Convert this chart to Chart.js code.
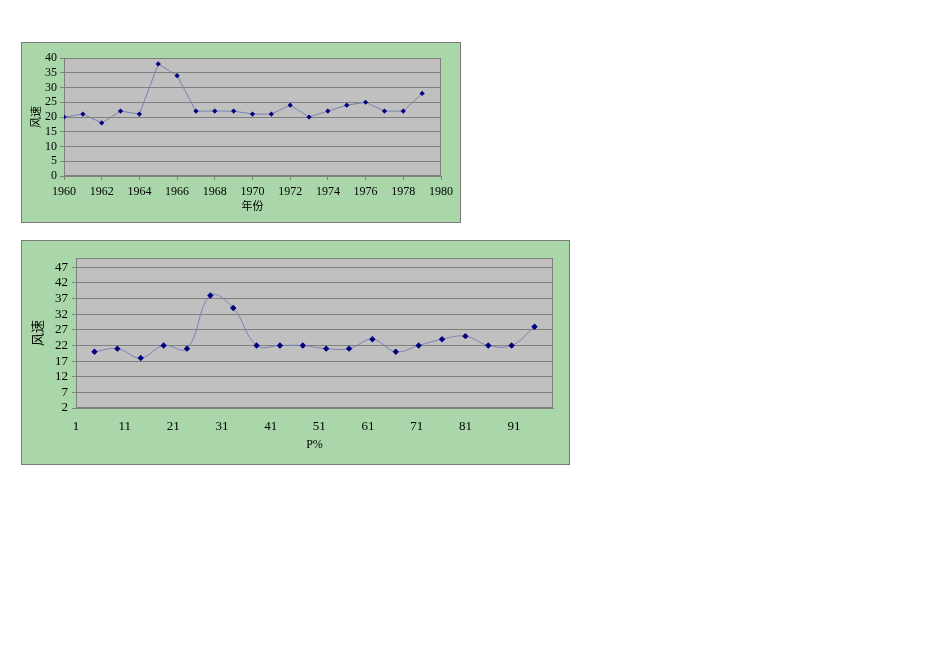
<!DOCTYPE html>
<html>
<head>
<meta charset="utf-8">
<script src="https://cdn.jsdelivr.net/npm/chart.js@4.4.0/dist/chart.umd.min.js"></script>
<style>
  html, body { margin: 0; padding: 0; background: #ffffff; width: 950px; height: 672px; overflow: hidden; }
  .box { position: absolute; background: #a9d7a9; border: 1px solid #7a7a7a; }
  #box1 { left: 21px; top: 42px; width: 438px; height: 179px; }
  #box2 { left: 21px; top: 240px; width: 547px; height: 223px; }
  canvas { display: block; }
</style>
</head>
<body>
<div class="box" id="box1"><canvas id="chart1" width="438" height="179"></canvas></div>
<div class="box" id="box2"><canvas id="chart2" width="547" height="223"></canvas></div>
<script>
// 年份 / 风速
const years = [1960, 1961, 1962, 1963, 1964, 1965, 1966, 1967, 1968, 1969,
               1970, 1971, 1972, 1973, 1974, 1975, 1976, 1977, 1978, 1979];
const windSpeed = [20, 21, 18, 22, 21, 38, 34, 22, 22, 22,
                   21, 21, 24, 20, 22, 24, 25, 22, 22, 28];
// P% (经验频率)
const pPercent = [4.8, 9.5, 14.3, 19.0, 23.8, 28.6, 33.3, 38.1, 42.9, 47.6,
                  52.4, 57.1, 61.9, 66.7, 71.4, 76.2, 81.0, 85.7, 90.5, 95.2];
const yearTicks = [1960, 1962, 1964, 1966, 1968, 1970, 1972, 1974, 1976, 1978, 1980];
const speedTicks1 = [0, 5, 10, 15, 20, 25, 30, 35, 40];
const pTicks = [1, 11, 21, 31, 41, 51, 61, 71, 81, 91];
const speedTicks2 = [2, 7, 12, 17, 22, 27, 32, 37, 42, 47];

const FONT = "'Liberation Serif', 'Noto Sans CJK SC', serif";
const plotBg = {
    id: 'plotBg',
    beforeDraw(chart) {
        const a = chart.chartArea, ctx = chart.ctx;
        ctx.save();
        ctx.fillStyle = '#c0c0c0';
        ctx.fillRect(a.left, a.top, a.right - a.left, a.bottom - a.top);
        ctx.strokeStyle = '#808080';
        ctx.lineWidth = 1;
        ctx.strokeRect(a.left + 0.5, a.top + 0.5, a.right - a.left - 1, a.bottom - a.top - 1);
        ctx.restore();
    }
};
const fixedTicks = list => scale => { scale.ticks = list.map(v => ({ value: v })); };
const plain = v => String(v);

new Chart(document.getElementById('chart1'), {
    type: 'scatter',
    data: {
        datasets: [{
            data: years.map((y, i) => ({ x: y, y: windSpeed[i] })),
            showLine: true,
            tension: 0,
            borderColor: '#7f7fb2',
            borderWidth: 1,
            pointStyle: 'rectRot',
            pointRadius: 2.6,
            pointBackgroundColor: '#000080',
            pointBorderColor: '#000080',
            pointBorderWidth: 0
        }]
    },
    options: {
        responsive: false,
        animation: false,
        layout: { padding: { top: 15, right: 19, left: 0, bottom: 0 } },
        plugins: { legend: { display: false }, tooltip: { enabled: false } },
        scales: {
            x: {
                type: 'linear', min: 1960, max: 1980,
                afterBuildTicks: fixedTicks(yearTicks),
                afterFit: s => { s.height = 46; },
                grid: { drawOnChartArea: false, drawTicks: true, tickLength: 4, color: '#808080' },
                border: { color: '#808080' },
                ticks: { color: '#000', font: { family: FONT, size: 12 }, padding: 5, maxRotation: 0, autoSkip: false, callback: plain },
                title: { display: true, text: '年份', color: '#000', font: { family: FONT, size: 11 }, padding: { top: 0, bottom: 8 } }
            },
            y: {
                min: 0, max: 40,
                afterBuildTicks: fixedTicks(speedTicks1),
                afterFit: s => { s.width = 42; },
                grid: { color: '#808080', tickLength: 4 },
                border: { color: '#808080' },
                ticks: { color: '#000', font: { family: FONT, size: 12 }, padding: 3, autoSkip: false, callback: plain },
                title: { display: true, text: '风速', color: '#000', font: { family: FONT, size: 11 }, padding: { top: 9, bottom: 0 } }
            }
        }
    },
    plugins: [plotBg]
});

new Chart(document.getElementById('chart2'), {
    type: 'scatter',
    data: {
        datasets: [{
            data: pPercent.map((p, i) => ({ x: p, y: windSpeed[i] })),
            showLine: true,
            tension: 0.4,
            borderColor: '#7f7fb2',
            borderWidth: 1,
            pointStyle: 'rectRot',
            pointRadius: 3.2,
            pointBackgroundColor: '#000080',
            pointBorderColor: '#000080',
            pointBorderWidth: 0
        }]
    },
    options: {
        responsive: false,
        animation: false,
        layout: { padding: { top: 17, right: 16, left: 0, bottom: 0 } },
        plugins: { legend: { display: false }, tooltip: { enabled: false } },
        scales: {
            x: {
                type: 'linear', min: 1, max: 99,
                afterBuildTicks: fixedTicks(pTicks),
                afterFit: s => { s.height = 56; },
                grid: { drawOnChartArea: false, drawTicks: false, color: '#808080' },
                border: { color: '#808080' },
                ticks: { color: '#000', font: { family: FONT, size: 13 }, padding: 11, maxRotation: 0, autoSkip: false, callback: plain },
                title: { display: true, text: 'P%', color: '#000', font: { family: FONT, size: 12 }, padding: { top: 0, bottom: 12 } }
            },
            y: {
                min: 2, max: 50,
                afterBuildTicks: fixedTicks(speedTicks2),
                afterFit: s => { s.width = 54; },
                grid: { color: '#808080', tickLength: 4 },
                border: { color: '#808080' },
                ticks: { color: '#000', font: { family: FONT, size: 13 }, padding: 4, autoSkip: false, callback: plain },
                title: { display: true, text: '风速', color: '#000', font: { family: FONT, size: 13 }, padding: { top: 9, bottom: 0 } }
            }
        }
    },
    plugins: [plotBg]
});
</script>
</body>
</html>
